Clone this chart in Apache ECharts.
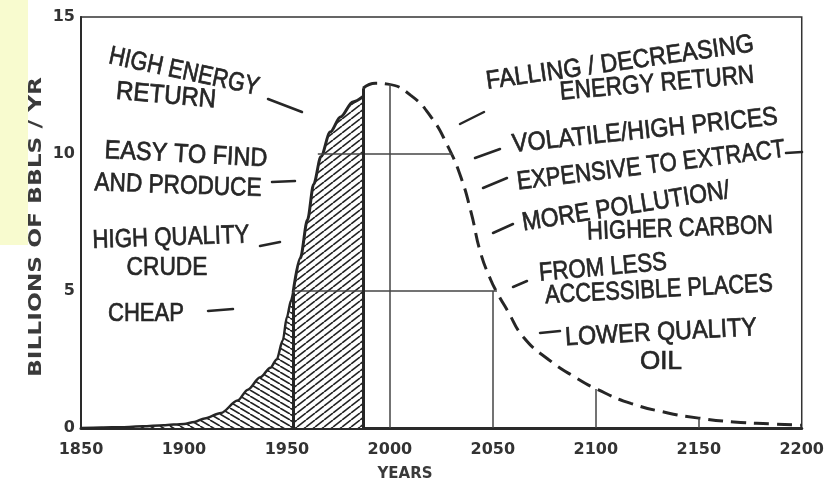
<!DOCTYPE html>
<html>
<head>
<meta charset="utf-8">
<script src="https://cdn.jsdelivr.net/npm/echarts@6/dist/echarts.min.js"></script>
<style>
  html, body { margin: 0; padding: 0; background: #fff; }
  #chart { width: 827px; height: 492px; }
</style>
</head>
<body>
<div id="chart"></div>
<script>
// production history, hatched part before the first divider
const histYears  = [1850, 1860, 1870, 1880, 1890, 1900, 1905, 1910, 1918, 1926, 1931, 1937, 1942, 1945, 1948, 1950, 1952, 1953];
const histValues = [0, 0.02, 0.03, 0.06, 0.1, 0.15, 0.22, 0.35, 0.55, 1.0, 1.4, 1.85, 2.2, 2.5, 3.2, 4.05, 4.65, 4.95];
// second hatched part, up to the present
const recentYears  = [1953, 1956.5, 1960, 1963, 1966.5, 1971, 1976, 1982, 1987];
const recentValues = [4.95, 6.2, 7.6, 8.9, 9.9, 10.8, 11.35, 11.9, 12.1];
// projected (dashed)
const futureYears  = [1987, 1993, 1999, 2010, 2020, 2028, 2034.5, 2039.5, 2044, 2049, 2052, 2057, 2065, 2077, 2090, 2101, 2117, 2135, 2150, 2167, 2185, 2200];
const futureValues = [12.4, 12.58, 12.55, 12.15, 11.35, 10.3, 9.15, 7.85, 6.4, 5.4, 4.95, 4.3, 3.3, 2.5, 1.85, 1.4, 0.9, 0.55, 0.36, 0.22, 0.15, 0.1];

// thin drop lines under the curve
const guideYears = [2000, 2050, 2100, 2150];
const guideTops  = [12.55, 5, 1.42, 0.36];
// thick dividers
const dividerYears = [1953, 1987];
const dividerTops  = [4.95, 12.4];
// horizontal levels across the curve
const levelValues = [5, 10];
const levelStarts = [1953, 1965];
const levelEnds   = [2052, 2030.5];

const xMin = 1850, xMax = 2200, xStep = 50;
const yMin = 0, yMax = 15, yStep = 5;

const notes = [
  { text: 'HIGH ENERGY', x: 184, y: 72, w: 153, rot: -12 },
  { text: 'RETURN', x: 166, y: 96, w: 100, rot: -5 },
  { text: 'EASY TO FIND', x: 186, y: 155, w: 163, rot: -3 },
  { text: 'AND PRODUCE', x: 178, y: 186, w: 167, rot: -2 },
  { text: 'HIGH QUALITY', x: 171, y: 238, w: 157, rot: 2 },
  { text: 'CRUDE', x: 167, y: 268, w: 81, rot: 0 },
  { text: 'CHEAP', x: 146, y: 314, w: 76, rot: 0 },
  { text: 'FALLING / DECREASING', x: 620, y: 63, w: 270, rot: 8 },
  { text: 'ENERGY RETURN', x: 657, y: 84, w: 195, rot: 5 },
  { text: 'VOLATILE/HIGH PRICES', x: 645, y: 131, w: 267, rot: 6 },
  { text: 'EXPENSIVE TO EXTRACT', x: 651, y: 166, w: 270, rot: 7 },
  { text: 'MORE POLLUTION/', x: 626, y: 207, w: 210, rot: 9 },
  { text: 'HIGHER CARBON', x: 680, y: 229, w: 186, rot: 2 },
  { text: 'FROM LESS', x: 603, y: 268, w: 128, rot: 5 },
  { text: 'ACCESSIBLE PLACES', x: 659, y: 290, w: 228, rot: 3 },
  { text: 'LOWER QUALITY', x: 661, y: 333, w: 192, rot: 3 },
  { text: 'OIL', x: 661, y: 362, w: 42, rot: 0 }
];
const leaders = [
  [268, 99, 302, 112], [272, 182, 295, 181], [260, 246, 280, 242], [208, 311, 233, 309],
  [460, 124, 484, 112], [475, 158, 500, 149], [483, 188, 507, 178], [786, 153, 802, 152],
  [493, 233, 513, 224], [513, 287, 527, 281], [540, 333, 560, 331]
];

const ink = '#262626';
const handFont = '"Liberation Sans"';
const tickFont = 'DejaVu Sans';

const measure = document.createElement('canvas').getContext('2d');
function fitScale(text, font, w) {
  measure.font = font;
  return w / measure.measureText(text).width;
}

function hatch(w, h, up) {
  const c = document.createElement('canvas');
  c.width = w; c.height = h;
  const ctx = c.getContext('2d');
  ctx.fillStyle = '#fff';
  ctx.fillRect(0, 0, w, h);
  ctx.strokeStyle = '#222';
  ctx.lineWidth = 1.6;
  for (const k of [-1, 0, 1]) {
    ctx.beginPath();
    if (up) { ctx.moveTo(k * w, h); ctx.lineTo(k * w + w, 0); }
    else { ctx.moveTo(k * w, 0); ctx.lineTo(k * w + w, h); }
    ctx.stroke();
  }
  return c;
}

const zip = (xs, ys) => xs.map((x, i) => [x, ys[i]]);

const chart = echarts.init(document.getElementById('chart'));

const graphic = [
  { type: 'rect', z: -10, shape: { x: 0, y: 0, width: 28, height: 245 }, style: { fill: '#f8fbcf' } }
];
notes.forEach(n => {
  const font = '26px ' + handFont;
  graphic.push({
    type: 'text', x: n.x, y: n.y, rotation: n.rot * Math.PI / 180,
    scaleX: fitScale(n.text, font, n.w),
    style: { text: n.text, font: font, fill: ink, stroke: ink, lineWidth: 0.7, align: 'center', verticalAlign: 'middle' }
  });
});
leaders.forEach(l => {
  graphic.push({
    type: 'line', shape: { x1: l[0], y1: l[1], x2: l[2], y2: l[3] },
    style: { stroke: ink, lineWidth: 2.5, lineCap: 'round' }
  });
});
const yName = 'BILLIONS OF BBLS / YR';
const yFont = 'bold 17px "DejaVu Sans"';
graphic.push({
  type: 'text', x: 37, y: 227, rotation: Math.PI / 2,
  scaleX: fitScale(yName, yFont, 300),
  style: { text: yName, font: yFont, fill: '#3a3a3a', align: 'center', verticalAlign: 'middle' }
});
graphic.push({
  type: 'text', x: 405, y: 474,
  style: { text: 'YEARS', font: 'bold 15px "DejaVu Sans"', fill: '#3a3a3a', align: 'center', verticalAlign: 'middle' }
});

const guideLines = guideYears.map((x, i) => [{ coord: [x, 0] }, { coord: [x, guideTops[i]] }])
  .concat(levelValues.map((v, i) => [{ coord: [levelStarts[i], v] }, { coord: [levelEnds[i], v] }]));
const dividerLines = dividerYears.map((x, i) => [{ coord: [x, 0] }, { coord: [x, dividerTops[i]] }]);

chart.setOption({
  backgroundColor: '#fff',
  animation: false,
  grid: { left: 81, right: 25, top: 17, bottom: 64, show: true, borderColor: '#333', borderWidth: 1.5 },
  xAxis: {
    type: 'value', min: xMin, max: xMax, interval: xStep,
    axisLine: { lineStyle: { color: '#2a2a2a', width: 3 } },
    axisTick: { show: false },
    splitLine: { show: false },
    axisLabel: {
      margin: 14, color: '#333', fontFamily: tickFont, fontWeight: 'bold', fontSize: 16,
      formatter: v => String(v)
    }
  },
  yAxis: {
    type: 'value', min: yMin, max: yMax, interval: yStep,
    axisLine: { show: true, lineStyle: { color: '#2a2a2a', width: 2 } },
    axisTick: { show: false },
    splitLine: { show: false },
    axisLabel: { margin: 6, color: '#333', fontFamily: tickFont, fontWeight: 'bold', fontSize: 16 }
  },
  graphic: graphic,
  series: [
    {
      type: 'line', data: zip(histYears, histValues), symbol: 'none',
      smooth: 0.3, smoothMonotone: 'x',
      lineStyle: { color: ink, width: 2.5 },
      areaStyle: { color: { image: hatch(10, 6, false), repeat: 'repeat' }, opacity: 1 }
    },
    {
      type: 'line', data: zip(recentYears, recentValues), symbol: 'none',
      smooth: 0.3, smoothMonotone: 'x',
      lineStyle: { color: ink, width: 3 },
      areaStyle: { color: { image: hatch(9, 7, true), repeat: 'repeat' }, opacity: 1 }
    },
    {
      type: 'line', data: zip(futureYears, futureValues), symbol: 'none',
      smooth: 0.5,
      lineStyle: { color: ink, width: 3, type: [15, 8] },
      markLine: {
        silent: true, symbol: 'none', label: { show: false },
        lineStyle: { color: '#444', width: 1.5, type: 'solid' },
        data: guideLines
      }
    },
    {
      type: 'line', data: [], symbol: 'none',
      markLine: {
        silent: true, symbol: 'none', label: { show: false },
        lineStyle: { color: ink, width: 3, type: 'solid' },
        data: dividerLines
      }
    }
  ]
});
</script>
</body>
</html>
